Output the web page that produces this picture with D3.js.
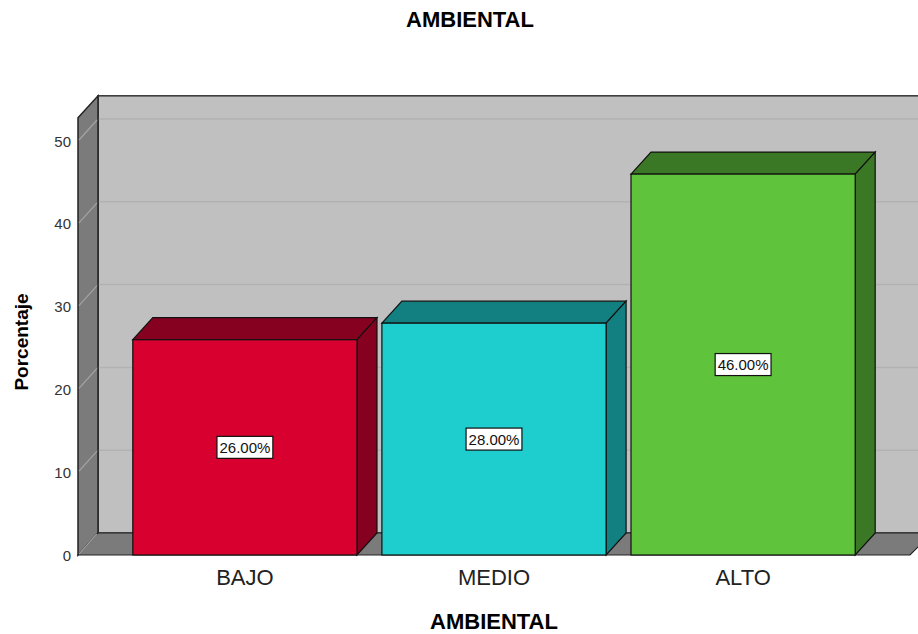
<!DOCTYPE html>
<html>
<head>
<meta charset="utf-8">
<script src="https://cdn.jsdelivr.net/npm/d3@7"></script>
<style>
  body { margin: 0; background: #fff; }
  svg { display: block; font-family: "Liberation Sans", Arial, sans-serif; }
</style>
</head>
<body>
<div id="chart"></div>
<script>
const categories = ['BAJO', 'MEDIO', 'ALTO'];
const percentages = [26, 28, 46];
const yTicks = [0, 10, 20, 30, 40, 50];
const frontColors = ['#d7002f', '#1ecdcd', '#5fc43b'];
const sideColors = ['#86001f', '#128080', '#3b7825'];

const width = 918, height = 634;
const dx = 20, dy = -22;   // depth of the 3d box
const yTop = 52.8;

const svg = d3.select('#chart').append('svg')
  .attr('width', width)
  .attr('height', height);

const x = d3.scaleBand()
  .domain(categories)
  .range([78, 910])
  .paddingInner(0.1)
  .paddingOuter(0.22);

const y = d3.scaleLinear()
  .domain([0, 50])
  .range([555, 141]);

const line = d3.line();

// back wall
svg.append('rect')
  .attr('x', 78 + dx)
  .attr('y', y(yTop) + dy)
  .attr('width', width)
  .attr('height', y(0) - y(yTop))
  .attr('fill', '#c0c0c0')
  .attr('stroke', '#333')
  .attr('stroke-width', 1.5);

// grid lines on back wall
svg.selectAll('.grid')
  .data(yTicks.slice(1))
  .enter().append('line')
  .attr('x1', 78 + dx)
  .attr('x2', width)
  .attr('y1', d => y(d) + dy)
  .attr('y2', d => y(d) + dy)
  .attr('stroke', '#b2b2b2')
  .attr('stroke-width', 1.5);

// left wall
svg.append('path')
  .attr('d', line([[78, y(yTop)], [78 + dx, y(yTop) + dy], [78 + dx, y(0) + dy], [78, y(0)]]) + 'Z')
  .attr('fill', '#7b7b7b')
  .attr('stroke', '#222')
  .attr('stroke-width', 1.5);

// floor
svg.append('path')
  .attr('d', line([[78, y(0)], [910, y(0)], [910 - dy, y(0) + dy], [78 + dx, y(0) + dy]]) + 'Z')
  .attr('fill', '#7b7b7b')
  .attr('stroke', '#222')
  .attr('stroke-width', 1.2);

// grid lines on left wall
svg.selectAll('.wallgrid')
  .data(yTicks)
  .enter().append('line')
  .attr('x1', 79)
  .attr('x2', 78 + dx - 1)
  .attr('y1', d => y(d) - 1)
  .attr('y2', d => y(d) + dy + 1)
  .attr('stroke', '#a4a4a4')
  .attr('stroke-width', 1.2);

// bars
const bars = svg.selectAll('.bar')
  .data(categories)
  .enter().append('g')
  .attr('class', 'bar');

const bw = x.bandwidth();

bars.append('path')
  .attr('d', (d, i) => {
    const x0 = x(d), yv = y(percentages[i]);
    return line([[x0, yv], [x0 + dx, yv + dy], [x0 + bw + dx, yv + dy], [x0 + bw, yv]]) + 'Z';
  })
  .attr('fill', (d, i) => sideColors[i])
  .attr('stroke', '#111')
  .attr('stroke-width', 1.2);

bars.append('path')
  .attr('d', (d, i) => {
    const x1 = x(d) + bw, yv = y(percentages[i]);
    return line([[x1, yv], [x1 + dx, yv + dy], [x1 + dx, y(0) + dy], [x1, y(0)]]) + 'Z';
  })
  .attr('fill', (d, i) => sideColors[i])
  .attr('stroke', '#111')
  .attr('stroke-width', 1.2);

bars.append('rect')
  .attr('x', d => x(d))
  .attr('y', (d, i) => y(percentages[i]))
  .attr('width', bw)
  .attr('height', (d, i) => y(0) - y(percentages[i]))
  .attr('fill', (d, i) => frontColors[i])
  .attr('stroke', '#111')
  .attr('stroke-width', 1.2);

// value labels
bars.each(function(d, i) {
  const g = d3.select(this);
  const cx = x(d) + bw / 2;
  const cy = (y(0) + y(percentages[i])) / 2;
  const t = g.append('text')
    .attr('x', cx)
    .attr('y', cy + 5.5)
    .attr('text-anchor', 'middle')
    .attr('font-size', 15)
    .attr('fill', '#111')
    .text(percentages[i].toFixed(2) + '%');
  const b = t.node().getBBox();
  g.insert('rect', 'text')
    .attr('x', b.x - 2.5)
    .attr('y', cy - 11)
    .attr('width', b.width + 5)
    .attr('height', 22)
    .attr('fill', '#fff')
    .attr('stroke', '#111')
    .attr('stroke-width', 1.2);
});

// y tick labels
svg.selectAll('.tick')
  .data(yTicks)
  .enter().append('text')
  .attr('x', 71)
  .attr('y', d => y(d) + 5.5)
  .attr('text-anchor', 'end')
  .attr('font-size', 15)
  .attr('fill', '#333')
  .text(d => d);

// category labels
svg.selectAll('.cat')
  .data(categories)
  .enter().append('text')
  .attr('x', d => x(d) + bw / 2)
  .attr('y', 585)
  .attr('text-anchor', 'middle')
  .attr('font-size', 22)
  .attr('fill', '#222')
  .text(d => d);

svg.append('text')
  .attr('x', 470)
  .attr('y', 27)
  .attr('text-anchor', 'middle')
  .attr('font-size', 22)
  .attr('font-weight', 'bold')
  .text('AMBIENTAL');

svg.append('text')
  .attr('x', 494)
  .attr('y', 629)
  .attr('text-anchor', 'middle')
  .attr('font-size', 22)
  .attr('font-weight', 'bold')
  .text('AMBIENTAL');

svg.append('text')
  .attr('transform', 'translate(28,342) rotate(-90)')
  .attr('text-anchor', 'middle')
  .attr('font-size', 19)
  .attr('font-weight', 'bold')
  .text('Porcentaje');
</script>
</body>
</html>
